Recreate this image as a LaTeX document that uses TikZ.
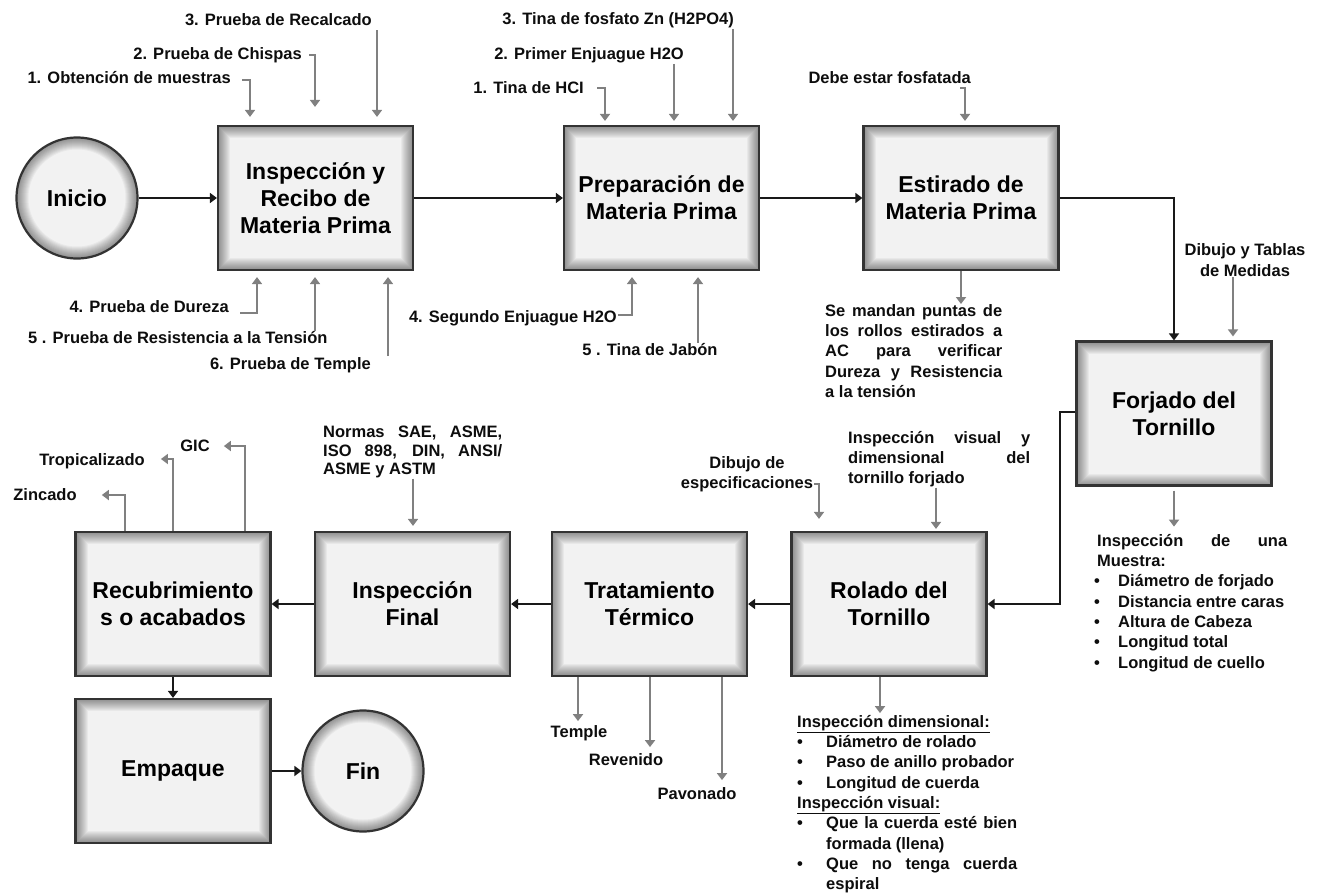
\documentclass[tikz,border=0pt]{standalone}
\usepackage{fontspec}
\setmainfont{Liberation Sans}
\usetikzlibrary{arrows.meta}
\newcommand{\fuentecaja}{\bfseries\fontsize{23}{27}\selectfont}
\newcommand{\fuentetexto}{\bfseries\fontsize{16.5}{20.3}\selectfont}
\newcommand{\linea}[2]{\makebox[#1][s]{#2}}
\newcommand{\vineta}[1]{\makebox[24pt][l]{\textbullet}#1}
\newcommand{\vinetaii}[1]{\makebox[29pt][l]{\textbullet}#1}
\tikzset{
  caja/.style={rectangle, draw=black!80, line width=2.2pt, fill=black!5,
    minimum width=195pt, minimum height=144pt, align=center, font=\fuentecaja, text=black,
    path picture={
      \foreach \i [evaluate=\i as \ancho using 2*\i] in {1,...,12}
        \draw[line width=\ancho pt, black, opacity=0.04]
          (path picture bounding box.south west) rectangle (path picture bounding box.north east);}},
  terminal/.style={circle, draw=black!80, line width=2.2pt, fill=black!5,
    minimum size=121pt, font=\fuentecaja, text=black,
    path picture={
      \foreach \i [evaluate=\i as \ancho using 2*\i] in {1,...,12}
        \draw[line width=\ancho pt, black, opacity=0.04]
          (path picture bounding box.center) circle[radius=60.5pt];}},
  texto/.style={font=\fuentetexto, text=black!95, inner sep=1pt},
  bloque/.style={texto, anchor=north west, align=left, inner sep=0pt},
  flecha/.style={draw=black!90, line width=2pt, -{Triangle[length=7pt,width=10pt]}},
  entrada/.style={draw=black!50, line width=2.2pt, -{Triangle[length=7pt,width=10pt]}}
}

\begin{document}
\begin{tikzpicture}[x=1pt, y=-1pt]
  \fill[white] (0,0) rectangle (1320,892);

  \node[terminal] (ini) at (77,198) {Inicio};
  \node[caja] (insp) at (315.5,198) {Inspección y\\Recibo de\\Materia Prima};
  \node[caja] (prep) at (661.5,198) {Preparación de\\Materia Prima};
  \node[caja] (estir) at (961,198) {Estirado de\\Materia Prima};
  \node[caja] (forj) at (1174,413.5) {Forjado del\\Tornillo};
  \node[caja] (rol) at (889,604) {Rolado del\\Tornillo};
  \node[caja] (trat) at (649.5,604) {Tratamiento\\Térmico};
  \node[caja] (insf) at (412.5,604) {Inspección\\Final};
  \node[caja] (recub) at (173,604) {Recubrimiento\\s o acabados};
  \node[caja] (emp) at (173,771) {Empaque};
  \node[terminal] (fin) at (363,771) {Fin};

  \draw[flecha] (ini) -- (insp);
  \draw[flecha] (insp) -- (prep);
  \draw[flecha] (prep) -- (estir);
  \draw[flecha] (estir.east) -| (forj.north);
  \draw[flecha] ([yshift=1.5pt]forj.west) -- ++(-15,0) |- (rol.east);
  \draw[flecha] (rol) -- (trat);
  \draw[flecha] (trat) -- (insf);
  \draw[flecha] (insf) -- (recub);
  \draw[flecha] (recub) -- (emp);
  \draw[flecha] (emp) -- (fin);

  % inspeccion y recibo
  \node[texto, anchor=east] (o1) at (232,78) {1. Obtención de muestras};
  \node[texto, anchor=east] (o2) at (303,55) {2. Prueba de Chispas};
  \node[texto, anchor=east] (o3) at (373,20) {3. Prueba de Recalcado};
  \node[texto, anchor=east] (o4) at (230,307) {4. Prueba de Dureza};
  \node[texto, anchor=west] (o5) at (27,338) {5 . Prueba de Resistencia a la Tensión};
  \node[texto, anchor=east] (o6) at (372,365) {6. Prueba de Temple};
  \draw[entrada] ([xshift=10pt,yshift=-2pt]o1.east) -| ([xshift=-65.5pt,yshift=8pt]insp.north);
  \draw[entrada] ([xshift=6pt]o2.east) -| ([xshift=-0.5pt,yshift=18pt]insp.north);
  \draw[entrada] ([xshift=4pt,yshift=-3pt]o3.south east) -- ([xshift=61.5pt,yshift=8pt]insp.north);
  \draw[entrada] ([xshift=10pt,yshift=-6pt]o4.east) -| ([xshift=-58.5pt,yshift=-6pt]insp.south);
  \draw[entrada] ([xshift=-0.5pt]insp.south |- o5.north) -- ([xshift=-0.5pt,yshift=-6pt]insp.south);
  \draw[entrada] ([xshift=72.5pt]insp.south |- o6.north) -- ([xshift=72.5pt,yshift=-6pt]insp.south);

  % preparacion
  \node[texto, anchor=east] (p1) at (585,88) {1. Tina de HCI};
  \node[texto, anchor=east] (p2) at (685,55) {2. Primer Enjuague H2O};
  \node[texto, anchor=east] (p3) at (735,20) {3. Tina de fosfato Zn (H2PO4)};
  \node[texto, anchor=east] (p4) at (618,318) {4. Segundo Enjuague H2O};
  \node[texto] (p5) at (650,350) {5 . Tina de Jabón};
  \draw[entrada] ([xshift=12pt]p1.east) -| ([xshift=-56.5pt,yshift=4pt]prep.north);
  \draw[entrada] ([xshift=12.5pt]prep.north |- p2.south) -- ([xshift=12.5pt,yshift=4pt]prep.north);
  \draw[entrada] ([xshift=71.5pt]prep.north |- p3.south) -- ([xshift=71.5pt,yshift=4pt]prep.north);
  \draw[entrada] ([yshift=3pt]p4.east) -| ([xshift=-29.5pt,yshift=-6pt]prep.south);
  \draw[entrada] ([xshift=36.5pt]prep.south |- p5.north) -- ([xshift=36.5pt,yshift=-6pt]prep.south);

  % estirado
  \node[texto, anchor=east] (e1) at (972,78) {Debe estar fosfatada};
  \draw[entrada] ([xshift=-12pt,yshift=-10pt]e1.east) -| ([xshift=4pt,yshift=4pt]estir.north);
  \node[bloque] (e2) at (825,304) {\linea{177pt}{Se mandan puntas de}\\
    \linea{177pt}{los rollos estirados a}\\ \linea{177pt}{AC para verificar}\\
    \linea{177pt}{Dureza y Resistencia}\\ a la tensión};
  \draw[entrada] (estir.south) -- (estir.south |- e2.north);

  % forjado
  \node[texto, align=center] (f1) at (1245,260) {Dibujo y Tablas\\de Medidas};
  \draw[entrada] ([xshift=59pt]forj.north |- f1.south) -- ([xshift=59pt,yshift=4pt]forj.north);
  \node[bloque] (f2) at (1094,534) {\hspace*{3pt}\linea{190pt}{Inspección de una}\\
    \hspace*{3pt}Muestra:\\ \vineta{Diámetro de forjado}\\ \vineta{Distancia entre caras}\\
    \vineta{Altura de Cabeza}\\ \vineta{Longitud total}\\ \vineta{Longitud de cuello}};
  \draw[entrada] ([yshift=-4pt]forj.south) -- ([yshift=-40pt]forj.south);

  % rolado
  \node[texto, align=center] (r1) at (747,474) {Dibujo de\\especificaciones};
  \draw[entrada] ([yshift=-10pt]r1.east) -| ([xshift=-70pt,yshift=12pt]rol.north);
  \node[bloque] (r2) at (848,431) {\linea{182pt}{Inspección visual y}\\
    \linea{182pt}{dimensional del}\\ tornillo forjado};
  \draw[entrada] ([xshift=47pt]rol.north |- r2.south) -- ([xshift=47pt,yshift=2pt]rol.north);
  \node[bloque] (r3) at (797,715) {\underline{Inspección dimensional:}\\
    \vinetaii{Diámetro de rolado}\\ \vinetaii{Paso de anillo probador}\\
    \vinetaii{Longitud de cuerda}\\ \underline{Inspección visual:}\\
    \vinetaii{\linea{191pt}{Que la cuerda esté bien}}\\ \hspace*{29pt}formada (llena)\\
    \vinetaii{\linea{191pt}{Que no tenga cuerda}}\\ \hspace*{29pt}espiral};
  \draw[entrada] ([xshift=-9pt]rol.south) -- ([xshift=-9pt,yshift=-36pt]rol.south);

  % tratamiento
  \node[texto] (t1) at (579,733) {Temple};
  \node[texto] (t2) at (626,760) {Revenido};
  \node[texto] (t3) at (697,794) {Pavonado};
  \draw[entrada] ([xshift=-71.5pt]trat.south) -- ([xshift=-71.5pt,yshift=-44pt]trat.south);
  \draw[entrada] ([xshift=0.5pt]trat.south) -- ([xshift=0.5pt,yshift=-70pt]trat.south);
  \draw[entrada] ([xshift=72.5pt]trat.south) -- ([xshift=72.5pt,yshift=-103pt]trat.south);

  % inspeccion final
  \node[bloque, font=\bfseries\fontsize{16.5}{18.6}\selectfont] (n1) at (323,426)
    {\linea{179pt}{Normas SAE, ASME,}\\ \linea{179pt}{ISO 898, DIN, ANSI/}\\ ASME y ASTM};
  \draw[entrada] ([xshift=0.5pt]insf.north |- n1.south) -- ([xshift=0.5pt,yshift=5pt]insf.north);

  % recubrimientos
  \node[texto] (z1) at (45,495) {Zincado};
  \node[texto] (z2) at (92,461) {Tropicalizado};
  \node[texto] (z3) at (195,446) {GIC};
  \draw[entrada] ([xshift=-48pt]recub.north) |- ([xshift=24pt]z1.east);
  \draw[entrada] (recub.north) |- ([xshift=15pt,yshift=2pt]z2.east);
  \draw[entrada] ([xshift=72pt]recub.north) |- ([xshift=13pt]z3.east);
\end{tikzpicture}
\end{document}
